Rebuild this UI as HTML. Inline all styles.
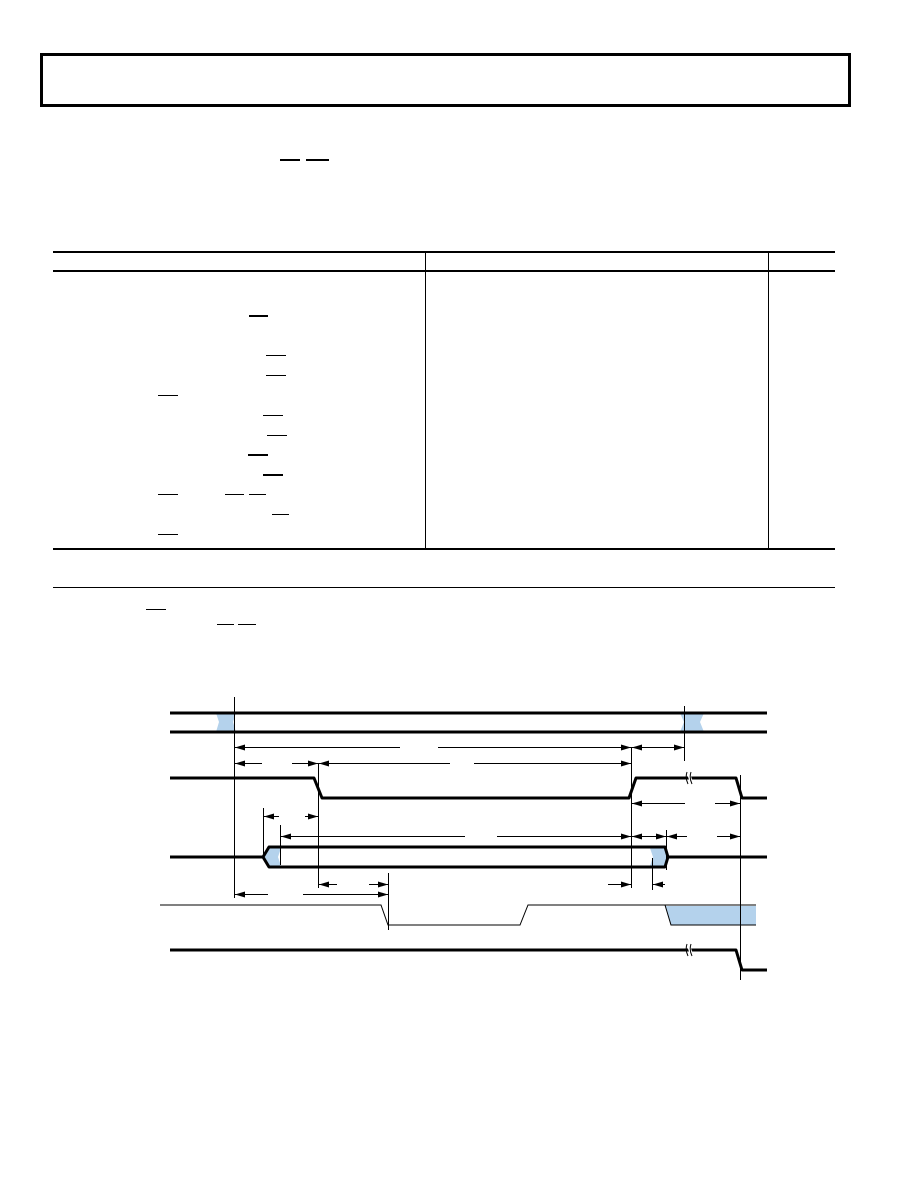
<!DOCTYPE html>
<html><head><meta charset="utf-8"><style>html,body{margin:0;padding:0;background:#fff}svg{display:block}</style></head>
<body>
<svg width="918" height="1188" viewBox="0 0 918 1188" xmlns="http://www.w3.org/2000/svg">
<defs>
<marker id="a" markerWidth="10" markerHeight="6" refX="10" refY="3" orient="auto-start-reverse" markerUnits="userSpaceOnUse"><path d="M0,0 L10,3 L0,6z" fill="#000"/></marker>
</defs>
<rect x="41.5" y="54.5" width="808" height="51" fill="none" stroke="#000" stroke-width="3"/>
<g stroke="#000" stroke-width="2">
<line x1="280" y1="160" x2="300" y2="160"/><line x1="306" y1="160" x2="329" y2="160"/>
<line x1="53" y1="252" x2="835" y2="252"/><line x1="53" y1="271" x2="835" y2="271"/>
<line x1="53" y1="549" x2="835" y2="549"/>
</g>
<g stroke="#000" stroke-width="1">
<line x1="53" y1="587.5" x2="835" y2="587.5"/>
<line x1="425.5" y1="252" x2="425.5" y2="549"/><line x1="768.5" y1="252" x2="768.5" y2="549"/>
</g>
<g stroke="#000" stroke-width="2">
<line x1="249" y1="316" x2="268" y2="316"/>
<line x1="248" y1="455" x2="268" y2="455"/>
<line x1="263" y1="475" x2="283" y2="475"/>
</g>
<g stroke="#000" stroke-width="1">
<line x1="266" y1="355.5" x2="286" y2="355.5"/><line x1="266" y1="375.5" x2="286" y2="375.5"/>
<line x1="158" y1="395.5" x2="178" y2="395.5"/><line x1="263" y1="415.5" x2="283" y2="415.5"/>
<line x1="267" y1="435.5" x2="287" y2="435.5"/>
<line x1="158" y1="494.5" x2="178" y2="494.5"/><line x1="225" y1="494.5" x2="244" y2="494.5"/><line x1="249" y1="494.5" x2="266" y2="494.5"/>
<line x1="272" y1="514.5" x2="289" y2="514.5"/><line x1="158" y1="534.5" x2="178" y2="534.5"/>
<line x1="146" y1="609.5" x2="166" y2="609.5"/><line x1="217" y1="624.5" x2="234" y2="624.5"/><line x1="238" y1="624.5" x2="256" y2="624.5"/>
</g>
<g fill="#b4d2ec" stroke="none">
<path d="M216,713 L236,713 L233,722 L236,732 L216,732 L219,722z"/>
<path d="M680,713 L704,713 L700,722 L704,732 L680,732 L684,722z"/>
<path d="M269,848 L281,848 L278,857 L281,866 L269,866 L264,857z"/>
<path d="M650,848 L665,848 L668,857 L665,866 L650,866 L653,857z"/>
<path d="M665,906 L756,906 L756,925 L671,925z"/>
</g>
<g stroke="#000" stroke-width="3" fill="none" stroke-linejoin="round">
<line x1="170" y1="713" x2="767" y2="713"/><line x1="170" y1="732" x2="767" y2="732"/>
<polyline points="170,778 314,778 322,798 629,798 636,778 736,778 742,798 767,798"/>
<path d="M170,857 L263,857 L269,847 L665,847 L668,857 L665,867 L269,867 L263,857 M668,857 L767,857"/>
<polyline points="170,950 736,950 742,970 767,970"/>
</g>
<g stroke="#fff" stroke-width="3"><line x1="688" y1="772" x2="692" y2="784"/><line x1="688" y1="944" x2="692" y2="956"/></g>
<g stroke="#000" stroke-width="1" fill="none">
<path d="M687,772 q-2,6 1,12 M691,772 q-2,6 1,12 M687,944 q-2,6 1,12 M691,944 q-2,6 1,12"/>
<polyline points="160,905 381,905 388,925 520,925 528,905 665,905 671,925 756,925"/>
<line x1="665" y1="905" x2="756" y2="905"/>
<line x1="234.5" y1="697" x2="234.5" y2="898"/>
<line x1="684.5" y1="706" x2="684.5" y2="761"/>
<line x1="318.5" y1="763" x2="318.5" y2="888"/>
<line x1="631.5" y1="747" x2="631.5" y2="888"/>
<line x1="740.5" y1="775" x2="740.5" y2="980"/>
<line x1="263.5" y1="808" x2="263.5" y2="855"/>
<line x1="280.5" y1="825" x2="280.5" y2="865"/>
<line x1="666.5" y1="830" x2="666.5" y2="870"/>
<line x1="652.5" y1="858" x2="652.5" y2="890"/>
<line x1="388.5" y1="873" x2="388.5" y2="930"/>
</g>
<g stroke="#000" stroke-width="1" marker-start="url(#a)" marker-end="url(#a)">
<line x1="235" y1="747.5" x2="631" y2="747.5"/>
<line x1="632" y1="747.5" x2="684" y2="747.5"/>
<line x1="235" y1="763.5" x2="318" y2="763.5"/>
<line x1="319" y1="763.5" x2="631" y2="763.5"/>
<line x1="632" y1="803.5" x2="740" y2="803.5"/>
<line x1="264" y1="816.5" x2="318" y2="816.5"/>
<line x1="281" y1="836.5" x2="631" y2="836.5"/>
<line x1="632" y1="836.5" x2="666" y2="836.5"/>
<line x1="667" y1="836.5" x2="740" y2="836.5"/>
<line x1="319" y1="884.5" x2="388" y2="884.5"/>
<line x1="235" y1="894.5" x2="388" y2="894.5"/>
</g>
<g stroke="#000" stroke-width="1">
<line x1="608" y1="884.5" x2="631" y2="884.5" marker-end="url(#a)"/>
<line x1="665" y1="884.5" x2="653" y2="884.5" marker-end="url(#a)"/>
</g>
<g fill="#fff">
<rect x="400" y="740" width="38" height="14"/><rect x="262" y="756" width="30" height="14"/><rect x="450" y="756" width="24" height="14"/>
<rect x="685" y="740" width="33" height="14"/><rect x="685" y="796" width="30" height="14"/>
<rect x="279" y="810" width="26" height="14"/><rect x="465" y="829" width="32" height="14"/>
<rect x="640" y="816" width="38" height="14"/><rect x="687" y="829" width="30" height="14"/>
<rect x="337" y="877" width="32" height="14"/><rect x="268" y="887" width="35" height="14"/>
<rect x="670" y="877" width="33" height="14"/>
</g>
</svg>
</body></html>
